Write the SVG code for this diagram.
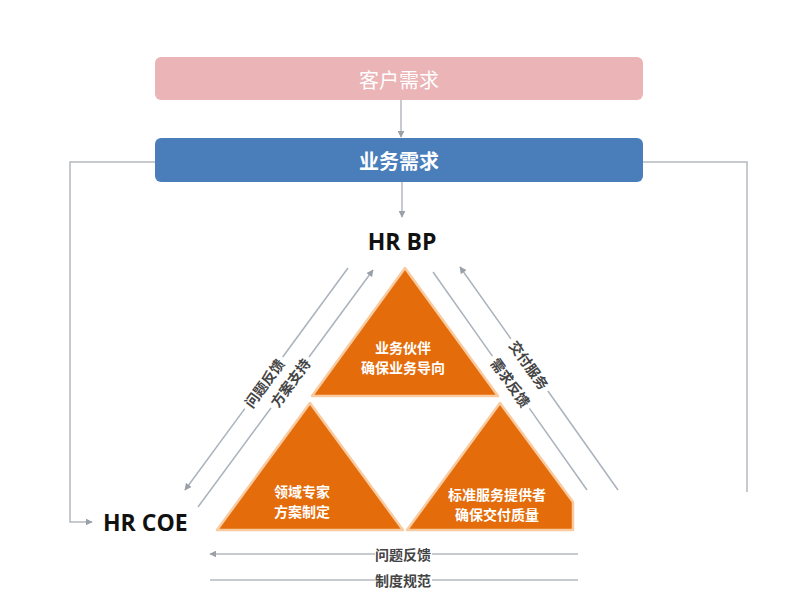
<svg xmlns="http://www.w3.org/2000/svg" width="800" height="600" viewBox="0 0 800 600">
<defs>
<style>
.cn{font-family:"Noto Sans CJK SC","Noto Sans",sans-serif;}
.lbl{font-family:"Noto Sans CJK SC",sans-serif;font-size:14px;font-weight:bold;fill:#444;text-anchor:middle;dominant-baseline:central;}
.tri{fill:#E46C0A;stroke:#F9CBA0;stroke-width:2.5;stroke-linejoin:round;}
.tt{font-family:"Noto Sans CJK SC",sans-serif;font-size:14px;font-weight:bold;fill:#ffffff;text-anchor:middle;dominant-baseline:central;}
.hr{font-family:"Open Sans","Noto Sans",sans-serif;font-size:23px;font-weight:bold;fill:#111;}
.ln{fill:none;stroke:#b4b8be;stroke-width:1.5;}
.dl{fill:none;stroke:#a9b2bd;stroke-width:1.5;}
</style>
<marker id="ah" viewBox="0 0 10 10" refX="9" refY="5" markerWidth="7" markerHeight="7" orient="auto" markerUnits="userSpaceOnUse">
<path d="M0,0 L10,5 L0,10 z" fill="#9aa0a8"/>
</marker>
</defs>
<rect width="800" height="600" fill="#ffffff"/>

<g id="customer-need">
<rect x="155" y="57" width="488" height="43" rx="6" fill="#EBB4B6"/>
<text x="399" y="79" class="cn" font-size="20" fill="#ffffff" text-anchor="middle" dominant-baseline="central">客户需求</text>
</g>

<g id="business-need">
<rect x="155" y="138" width="488" height="44" rx="6" fill="#4A7EBB"/>
<text x="399" y="160" class="cn" font-size="20" font-weight="bold" fill="#ffffff" text-anchor="middle" dominant-baseline="central">业务需求</text>
</g>

<g id="hrbp">
<text x="402" y="250" class="hr" text-anchor="middle">HR BP</text>
</g>

<g id="hrcoe">
<text x="103" y="531" class="hr">HR COE</text>
</g>

<g id="tri-top">
<polygon class="tri" points="405,268 498,396 312,396"/>
<text x="403" y="347" class="tt">业务伙伴</text>
<text x="403" y="367" class="tt">确保业务导向</text>
</g>

<g id="tri-left">
<polygon class="tri" points="310,403 403,530 217,530"/>
<text x="302" y="491" class="tt">领域专家</text>
<text x="302" y="511" class="tt">方案制定</text>
</g>

<g id="tri-right">
<polygon class="tri" points="500,403 573,502 573,530 407,530"/>
<text x="497" y="494" class="tt">标准服务提供者</text>
<text x="497" y="514" class="tt">确保交付质量</text>
</g>

<g id="connectors">
<line class="ln" x1="401" y1="100" x2="401" y2="137" marker-end="url(#ah)"/>
<line class="ln" x1="402" y1="182" x2="402" y2="217" marker-end="url(#ah)"/>
<polyline class="ln" points="155,162 70,162 70,522 92,522" marker-end="url(#ah)"/>
<polyline class="ln" points="643,162 747,162 747,492"/>

<line class="dl" x1="348" y1="268" x2="282.7" y2="357"/>
<line class="dl" x1="244.8" y1="408.6" x2="185" y2="490" marker-end="url(#ah)"/>
<line class="dl" x1="198" y1="507" x2="271" y2="408"/>
<line class="dl" x1="309" y1="357" x2="373" y2="270" marker-end="url(#ah)"/>
<line class="dl" x1="618" y1="490" x2="547.9" y2="391"/>
<line class="dl" x1="510.9" y1="338.8" x2="460" y2="267" marker-end="url(#ah)"/>
<line class="dl" x1="433" y1="272" x2="492.4" y2="356.1"/>
<line class="dl" x1="529.4" y1="408.4" x2="587" y2="490"/>

<line class="ln" x1="375" y1="554" x2="210" y2="554" marker-end="url(#ah)"/>
<line class="ln" x1="432" y1="554" x2="578" y2="554"/>
<line class="ln" x1="210" y1="580" x2="375" y2="580"/>
<line class="ln" x1="432" y1="580" x2="578" y2="580"/>
</g>

<g id="labels">
<text class="lbl" transform="translate(264,383) rotate(-53.7)" x="0" y="0">问题反馈</text>
<text class="lbl" transform="translate(290,382.5) rotate(-53.7)" x="0" y="0">方案支持</text>
<text class="lbl" transform="translate(529.4,364.9) rotate(54.7)" x="0" y="0">交付服务</text>
<text class="lbl" transform="translate(510.9,382.3) rotate(54.7)" x="0" y="0">需求反馈</text>
<text class="lbl" x="403" y="554">问题反馈</text>
<text class="lbl" x="403" y="580">制度规范</text>
</g>
</svg>
